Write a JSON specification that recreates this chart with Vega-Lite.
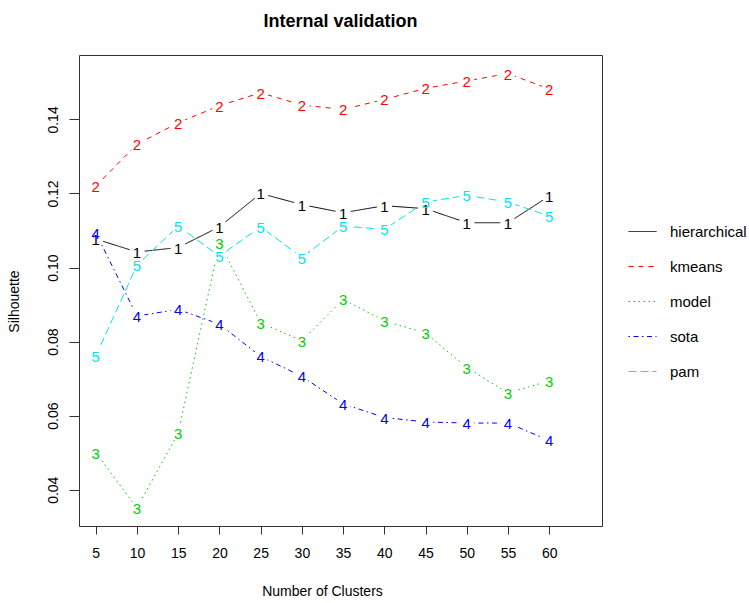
{
  "$schema": "https://vega.github.io/schema/vega-lite/v6.json",
  "width": 523,
  "height": 471,
  "autosize": {"type": "none"},
  "padding": {"left": 79, "top": 55, "right": 147, "bottom": 77},
  "background": "white",
  "config": {
    "font": "Liberation Sans",
    "view": {"stroke": "#333333", "strokeWidth": 1},
    "axis": {"grid": false, "domain": false, "tickColor": "#333333", "labelColor": "black", "titleColor": "black", "labelFont": "Liberation Sans", "titleFont": "Liberation Sans", "labelFontSize": 14, "titleFontSize": 14, "titleFontWeight": "normal"}
  },
  "title": {"text": "Internal validation", "fontSize": 18, "fontWeight": "bold", "font": "Liberation Sans", "anchor": "middle", "baseline": "alphabetic", "offset": 10, "color": "black"},
  "data": {"values": [
    {"k": 5, "method": "hierarchical", "code": "1", "value": 0.1077},
    {"k": 10, "method": "hierarchical", "code": "1", "value": 0.1042},
    {"k": 15, "method": "hierarchical", "code": "1", "value": 0.1054},
    {"k": 20, "method": "hierarchical", "code": "1", "value": 0.1110},
    {"k": 25, "method": "hierarchical", "code": "1", "value": 0.1200},
    {"k": 30, "method": "hierarchical", "code": "1", "value": 0.1170},
    {"k": 35, "method": "hierarchical", "code": "1", "value": 0.1148},
    {"k": 40, "method": "hierarchical", "code": "1", "value": 0.1167},
    {"k": 45, "method": "hierarchical", "code": "1", "value": 0.1159},
    {"k": 50, "method": "hierarchical", "code": "1", "value": 0.1121},
    {"k": 55, "method": "hierarchical", "code": "1", "value": 0.1121},
    {"k": 60, "method": "hierarchical", "code": "1", "value": 0.1193},
    {"k": 5, "method": "kmeans", "code": "2", "value": 0.1220},
    {"k": 10, "method": "kmeans", "code": "2", "value": 0.1333},
    {"k": 15, "method": "kmeans", "code": "2", "value": 0.1391},
    {"k": 20, "method": "kmeans", "code": "2", "value": 0.1437},
    {"k": 25, "method": "kmeans", "code": "2", "value": 0.1472},
    {"k": 30, "method": "kmeans", "code": "2", "value": 0.1439},
    {"k": 35, "method": "kmeans", "code": "2", "value": 0.1427},
    {"k": 40, "method": "kmeans", "code": "2", "value": 0.1454},
    {"k": 45, "method": "kmeans", "code": "2", "value": 0.1484},
    {"k": 50, "method": "kmeans", "code": "2", "value": 0.1504},
    {"k": 55, "method": "kmeans", "code": "2", "value": 0.1524},
    {"k": 60, "method": "kmeans", "code": "2", "value": 0.1482},
    {"k": 5, "method": "model", "code": "3", "value": 0.0500},
    {"k": 10, "method": "model", "code": "3", "value": 0.0351},
    {"k": 15, "method": "model", "code": "3", "value": 0.0553},
    {"k": 20, "method": "model", "code": "3", "value": 0.1067},
    {"k": 25, "method": "model", "code": "3", "value": 0.0851},
    {"k": 30, "method": "model", "code": "3", "value": 0.0802},
    {"k": 35, "method": "model", "code": "3", "value": 0.0914},
    {"k": 40, "method": "model", "code": "3", "value": 0.0856},
    {"k": 45, "method": "model", "code": "3", "value": 0.0823},
    {"k": 50, "method": "model", "code": "3", "value": 0.0730},
    {"k": 55, "method": "model", "code": "3", "value": 0.0661},
    {"k": 60, "method": "model", "code": "3", "value": 0.0694},
    {"k": 5, "method": "sota", "code": "4", "value": 0.1094},
    {"k": 10, "method": "sota", "code": "4", "value": 0.0869},
    {"k": 15, "method": "sota", "code": "4", "value": 0.0887},
    {"k": 20, "method": "sota", "code": "4", "value": 0.0847},
    {"k": 25, "method": "sota", "code": "4", "value": 0.0760},
    {"k": 30, "method": "sota", "code": "4", "value": 0.0706},
    {"k": 35, "method": "sota", "code": "4", "value": 0.0632},
    {"k": 40, "method": "sota", "code": "4", "value": 0.0595},
    {"k": 45, "method": "sota", "code": "4", "value": 0.0583},
    {"k": 50, "method": "sota", "code": "4", "value": 0.0580},
    {"k": 55, "method": "sota", "code": "4", "value": 0.0580},
    {"k": 60, "method": "sota", "code": "4", "value": 0.0533},
    {"k": 5, "method": "pam", "code": "5", "value": 0.0761},
    {"k": 10, "method": "pam", "code": "5", "value": 0.1006},
    {"k": 15, "method": "pam", "code": "5", "value": 0.1112},
    {"k": 20, "method": "pam", "code": "5", "value": 0.1031},
    {"k": 25, "method": "pam", "code": "5", "value": 0.1110},
    {"k": 30, "method": "pam", "code": "5", "value": 0.1027},
    {"k": 35, "method": "pam", "code": "5", "value": 0.1112},
    {"k": 40, "method": "pam", "code": "5", "value": 0.1103},
    {"k": 45, "method": "pam", "code": "5", "value": 0.1177},
    {"k": 50, "method": "pam", "code": "5", "value": 0.1195},
    {"k": 55, "method": "pam", "code": "5", "value": 0.1177},
    {"k": 60, "method": "pam", "code": "5", "value": 0.1139}
  ]},
  "encoding": {
    "x": {"field": "k", "type": "quantitative",
      "scale": {"domain": [2.97, 66.4], "nice": false, "zero": false},
      "axis": {"values": [5, 10, 15, 20, 25, 30, 35, 40, 45, 50, 55, 60], "tickSize": 8, "labelPadding": 12, "title": "Number of Clusters", "titleX": 243, "titleY": 69, "titleBaseline": "alphabetic", "titleAnchor": "middle", "titleAlign": "center", "labelFlush": false}},
    "y": {"field": "value", "type": "quantitative",
      "scale": {"domain": [0.0302, 0.1574], "nice": false, "zero": false},
      "axis": {"values": [0.04, 0.06, 0.08, 0.10, 0.12, 0.14], "format": ".2f", "tickSize": 10, "labelAngle": -90, "labelAlign": "center", "labelBaseline": "bottom", "labelPadding": 9, "title": "Silhouette", "titleX": -61, "titleY": 246, "titleAngle": -90, "titleBaseline": "alphabetic", "titleAlign": "center", "labelFlush": false}}
  },
  "layer": [
    {
      "mark": {"type": "line", "strokeWidth": 1},
      "encoding": {
        "color": {"field": "method", "type": "nominal",
          "scale": {"domain": ["hierarchical", "kmeans", "model", "sota", "pam"], "range": ["black", "#FF0000", "#00CD00", "#0000FF", "#00E5EE"]},
          "legend": {"title": null, "orient": "none", "legendX": 549, "legendY": 162, "symbolType": "stroke", "symbolSize": 784, "symbolStrokeWidth": 1, "labelFontSize": 15, "labelFont": "Liberation Sans", "labelColor": "black", "labelOffset": 13, "rowPadding": 12, "padding": 0}},
        "strokeDash": {"field": "method", "type": "nominal",
          "scale": {"domain": ["hierarchical", "kmeans", "model", "sota", "pam"], "range": [[1, 0], [5, 5], [1.5, 3.5], [1.5, 3.5, 5, 3.5], [8, 4]]},
          "legend": {"title": null, "orient": "none", "legendX": 549, "legendY": 162, "symbolType": "stroke", "symbolSize": 784, "symbolStrokeWidth": 1, "labelFontSize": 15, "labelFont": "Liberation Sans", "labelColor": "black", "labelOffset": 13, "rowPadding": 12, "padding": 0}}
      }
    },
    {
      "mark": {"type": "point", "shape": "circle", "filled": true, "color": "white", "opacity": 1, "size": 240},
      "encoding": {}
    },
    {
      "mark": {"type": "text", "fontSize": 15, "font": "Liberation Sans", "baseline": "middle", "align": "center", "dy": 1},
      "encoding": {
        "text": {"field": "code"},
        "color": {"field": "method", "type": "nominal", "legend": null}
      }
    }
  ]
}
